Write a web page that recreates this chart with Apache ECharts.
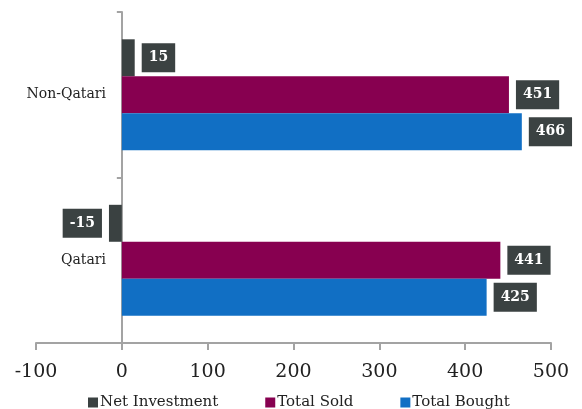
<!DOCTYPE html>
<html>
<head>
<meta charset="utf-8">
<script src="https://cdn.jsdelivr.net/npm/echarts@6/dist/echarts.min.js"></script>
<style>html,body{margin:0;padding:0;background:#fff;}#c{width:582px;height:409px;}</style>
</head>
<body>
<div id="c"></div>
<script>
var categories = ['Qatari', 'Non-Qatari'];
var seriesNames = ['Net Investment', 'Total Sold', 'Total Bought'];
var netInvestment = [-15, 15];
var totalSold = [441, 451];
var totalBought = [425, 466];
var xTicks = [-100, 0, 100, 200, 300, 400, 500];

var colors = ['#3a4141', '#870050', '#116fc4'];
var serifFont = 'DejaVu Serif';

function mkData(arr) {
  return arr.map(function (v) {
    return { value: v, label: { position: v < 0 ? 'left' : 'right' } };
  });
}

var labelStyle = {
  show: true,
  distance: 7,
  color: '#fff',
  fontWeight: 'bold',
  fontFamily: serifFont,
  fontSize: 14,
  lineHeight: 15,
  backgroundColor: '#3b4242',
  padding: [7, 7, 7, 7]
};

var valuesList = [netInvestment, totalSold, totalBought];
var series = seriesNames.map(function (name, i) {
  return {
    name: name,
    type: 'bar',
    data: mkData(valuesList[i]),
    itemStyle: { color: colors[i] },
    barGap: '0%',
    barCategoryGap: '33%',
    label: labelStyle
  };
});

var chart = echarts.init(document.getElementById('c'), null, { renderer: 'canvas' });
chart.setOption({
  animation: false,
  color: colors,
  grid: { left: 36, right: 31, top: 12, bottom: 66, containLabel: false, outerBoundsMode: 'none' },
  legend: {
    data: seriesNames,
    top: 390,
    left: 83,
    itemWidth: 10,
    itemHeight: 10,
    itemGap: 47,
    icon: 'rect',
    textStyle: { fontFamily: serifFont, fontSize: 15, color: '#222', padding: [0, 0, 0, -3] }
  },
  xAxis: {
    type: 'value',
    min: xTicks[0],
    max: xTicks[xTicks.length - 1],
    interval: 100,
    splitLine: { show: false },
    axisLine: { show: true, lineStyle: { color: '#a3a3a3', width: 2 } },
    axisTick: { show: true, length: 7, lineStyle: { color: '#a3a3a3', width: 2 } },
    axisLabel: { fontFamily: serifFont, fontSize: 19, color: '#222', margin: 20 }
  },
  yAxis: {
    type: 'category',
    data: categories,
    axisLine: { show: true, onZero: true, lineStyle: { color: '#a3a3a3', width: 2 } },
    axisTick: { show: true, length: 5, lineStyle: { color: '#a3a3a3', width: 2 } },
    axisLabel: { fontFamily: serifFont, fontSize: 14, color: '#222', margin: -70 }
  },
  series: series
});
</script>
</body>
</html>
